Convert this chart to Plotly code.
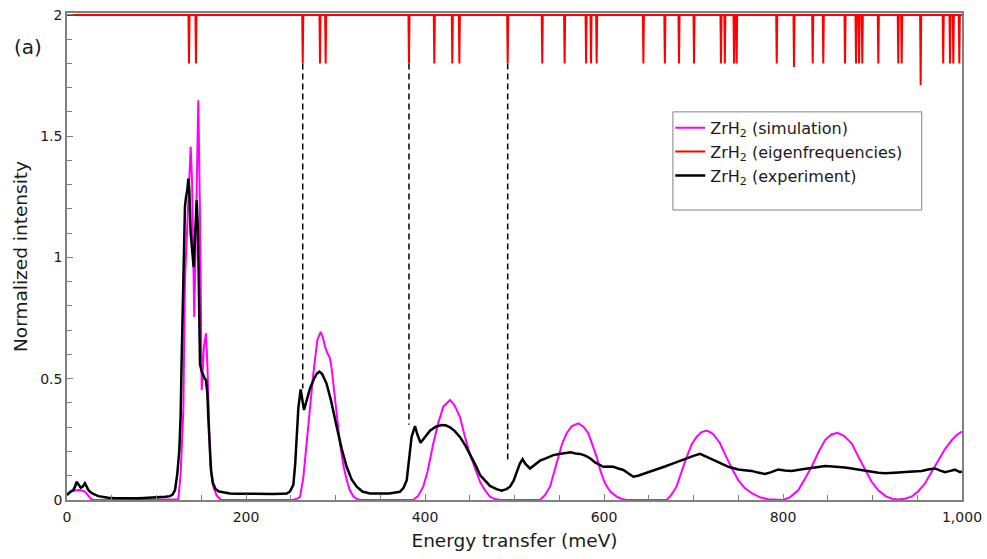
import plotly.graph_objects as go

# --- ZrH2 vibrational spectrum: simulation (magenta) ---
sim_energy = [0, 5, 10, 14.5, 20, 24, 27, 30, 120, 124.4, 127, 128.5, 130, 131.8, 134.4, 136.5,
              138.2, 139.7, 141, 142.2, 143.5, 144.9, 146.7, 148.6, 150.5, 153, 155.3, 156.8,
              158.3, 160, 163, 167, 172, 252, 256, 260.3, 264, 267.8, 271.5, 275.2, 279.7,
              283.4, 286, 288.3, 291, 293.9, 295.8, 297.6, 301, 305, 309, 312.5, 316, 320, 324,
              327, 386.6, 392, 398, 403, 409.3, 415, 420.5, 428, 433, 439, 444, 450, 456, 461.5,
              467, 472.6, 478, 484, 528.5, 534, 539.7, 544, 549, 553, 558.3, 564, 571.3, 577,
              582.5, 587, 591.8, 596, 601.1, 607, 614.2, 620, 625, 670, 675, 681, 686, 692.4,
              698, 703.6, 709, 715.4, 722, 729.6, 735, 740, 745, 750, 757, 765, 775, 783.6, 800,
              808, 817, 824, 832, 840, 847, 854, 861, 868, 876.7, 884, 891.6, 899, 906.5, 915,
              922, 928.8, 936, 943.8, 951, 958.7, 966, 973.5, 981, 988.5, 994, 1000]
sim_intensity = [0.025, 0.035, 0.04, 0.041, 0.035, 0.015, 0.004, 0, 0, 0.003, 0.11, 0.25, 0.37,
                 0.906, 1.11, 1.30, 1.456, 1.318, 1.0, 0.755, 1.0, 1.318, 1.648, 1.18, 0.453,
                 0.632, 0.687, 0.563, 0.37, 0.15, 0.06, 0.02, 0, 0, 0.004, 0.012, 0.09, 0.247,
                 0.39, 0.52, 0.66, 0.693, 0.67, 0.632, 0.605, 0.584, 0.54, 0.48, 0.36, 0.234,
                 0.14, 0.082, 0.04, 0.014, 0.004, 0, 0, 0.015, 0.055, 0.12, 0.234, 0.32, 0.385,
                 0.412, 0.39, 0.343, 0.27, 0.192, 0.13, 0.075, 0.04, 0.014, 0.004, 0, 0, 0.02,
                 0.055, 0.11, 0.178, 0.23, 0.275, 0.305, 0.316, 0.302, 0.275, 0.23, 0.178, 0.12,
                 0.069, 0.035, 0.014, 0.004, 0, 0, 0.02, 0.055, 0.11, 0.178, 0.23, 0.261, 0.28,
                 0.286, 0.272, 0.234, 0.19, 0.15, 0.115, 0.082, 0.05, 0.028, 0.01, 0.003, 0,
                 0.012, 0.04, 0.085, 0.137, 0.2, 0.247, 0.27, 0.277, 0.265, 0.234, 0.18, 0.124,
                 0.075, 0.04, 0.015, 0.005, 0.002, 0.005, 0.014, 0.035, 0.069, 0.115, 0.165,
                 0.21, 0.247, 0.268, 0.282]

# --- ZrH2 vibrational spectrum: experiment (black) ---
exp_energy = [0, 1.5, 4, 7, 9, 10.8, 12, 13.7, 15.5, 17.5, 20, 22, 23.8, 26.5, 29.4, 35, 40.6,
              46, 51.7, 60, 70, 80, 85.3, 95, 104, 110, 115, 118, 120.7, 123.3, 125.5, 127,
              128.2, 129.2, 130.7, 131.8, 133, 134.4, 135.6, 136.7, 138.2, 140.4, 141.5, 143,
              143.8, 144.9, 146.4, 147.5, 148.6, 150.5, 152.3, 154, 155.3, 156.8, 158, 159.5,
              161, 163, 166, 170, 176, 182, 190, 200, 210, 220, 230, 240, 245.5, 249, 252.9,
              255, 256.6, 258.5, 261.1, 262.8, 264.8, 267, 271.5, 276, 279, 282, 285, 290, 295,
              301.3, 307, 312.5, 318, 323.7, 330, 338.5, 350, 360, 372, 376, 379.6, 382.5, 385,
              388.8, 391.5, 395, 400, 405.6, 412, 418.6, 423, 428, 433, 439, 445, 450, 457,
              461.5, 465, 472.6, 480, 485.7, 491, 495, 499, 502.5, 506, 509, 512, 517.3, 522,
              528.5, 535, 543.4, 550, 556.4, 563, 568, 573.2, 579, 584.4, 590, 595, 599.2, 605,
              610.4, 616, 621.6, 627, 632.8, 638, 644, 650, 659, 668, 677.4, 685, 692.4, 700,
              707.3, 714, 722.2, 730, 739, 745, 750, 757, 765, 772, 780, 787, 794.7, 802, 809.7,
              818, 828.3, 838, 847, 855, 861.8, 869, 876.7, 884, 891.6, 899, 906.5, 914, 921.4,
              929, 936.3, 945, 955, 962, 969.8, 975, 981, 987, 992, 997.8, 1000]
exp_intensity = [0.02, 0.027, 0.035, 0.041, 0.055, 0.075, 0.068, 0.06, 0.05, 0.055, 0.069, 0.055,
                 0.041, 0.032, 0.025, 0.016, 0.011, 0.009, 0.008, 0.007, 0.008, 0.007, 0.008,
                 0.009, 0.011, 0.013, 0.016, 0.022, 0.041, 0.11, 0.206, 0.35, 0.6, 0.77, 0.975,
                 1.21, 1.25, 1.277, 1.325, 1.277, 1.1, 0.989, 0.96, 1.08, 1.154, 1.236, 1.11,
                 0.77, 0.56, 0.53, 0.51, 0.5, 0.494, 0.44, 0.33, 0.2, 0.12, 0.07, 0.045, 0.035,
                 0.03, 0.027, 0.026, 0.025, 0.024, 0.024, 0.025, 0.026, 0.027, 0.035, 0.062,
                 0.15, 0.275, 0.38, 0.456, 0.42, 0.371, 0.4, 0.46, 0.5, 0.52, 0.529, 0.52, 0.48,
                 0.41, 0.302, 0.21, 0.137, 0.085, 0.055, 0.035, 0.027, 0.026, 0.027, 0.034, 0.05,
                 0.082, 0.17, 0.26, 0.305, 0.27, 0.236, 0.26, 0.286, 0.302, 0.309, 0.308, 0.3,
                 0.285, 0.26, 0.225, 0.192, 0.14, 0.103, 0.09, 0.058, 0.045, 0.038, 0.045, 0.055,
                 0.08, 0.117, 0.15, 0.168, 0.15, 0.13, 0.145, 0.162, 0.172, 0.185, 0.19, 0.195,
                 0.197, 0.192, 0.19, 0.183, 0.172, 0.155, 0.145, 0.137, 0.138, 0.137, 0.13, 0.124,
                 0.11, 0.096, 0.1, 0.107, 0.115, 0.126, 0.138, 0.151, 0.162, 0.172, 0.182, 0.19,
                 0.178, 0.165, 0.152, 0.137, 0.13, 0.126, 0.123, 0.12, 0.113, 0.107, 0.115, 0.126,
                 0.122, 0.12, 0.125, 0.13, 0.135, 0.14, 0.138, 0.137, 0.134, 0.13, 0.125, 0.12,
                 0.115, 0.112, 0.11, 0.11, 0.113, 0.115, 0.118, 0.12, 0.126, 0.13, 0.122, 0.115,
                 0.12, 0.125, 0.115, 0.118]

# --- calculated eigenfrequencies (meV) and the level each stick reaches ---
eig_freq = [136.3, 144.1, 263.4, 282.7, 289.0, 382.1, 410.4, 430.5, 438.4, 492.4, 531, 556, 580,
            585.5, 591.8, 644, 668, 683.8, 700.6, 730.7, 735, 745.3, 748.2, 793, 812.3, 833.2,
            845, 869.3, 881.6, 885, 888.6, 906.5, 928.8, 932.6, 953.8, 979, 986.6, 990.3, 997]
eig_level = [1.8, 1.8, 1.8, 1.8, 1.8, 1.8, 1.8, 1.8, 1.8, 1.8, 1.8, 1.8, 1.8, 1.8, 1.8, 1.8,
             1.8, 1.8, 1.8, 1.8, 1.8, 1.8, 1.8, 1.8, 1.785, 1.8, 1.8, 1.8, 1.8, 1.8, 1.8, 1.8,
             1.8, 1.8, 1.71, 1.8, 1.8, 1.8, 1.8]
eig_baseline = 2.0
stick_halfwidth = 0.6

# --- guides linking selected eigenfrequencies to experimental features ---
guide_energy = [263.4, 382.1, 492.4]
guide_top = [1.8, 1.8, 1.8]
guide_bottom = [0.46, 0.31, 0.155]

FONT = "DejaVu Sans"
AXIS_GREY = "#808080"

# build the stick spectrum as one continuous line along the baseline
stick_x = [0.0]
stick_y = [eig_baseline]
for f, lvl in zip(eig_freq, eig_level):
    stick_x += [f - stick_halfwidth, f, f + stick_halfwidth]
    stick_y += [eig_baseline, lvl, eig_baseline]
stick_x.append(1000.0)
stick_y.append(eig_baseline)

guide_x, guide_y = [], []
for e, top, bot in zip(guide_energy, guide_top, guide_bottom):
    guide_x += [e, e, None]
    guide_y += [top, bot, None]

fig = go.Figure()
fig.add_trace(go.Scatter(x=guide_x, y=guide_y, mode="lines", showlegend=False,
                         line=dict(color="black", width=1.5, dash="6px,4px"),
                         hoverinfo="skip"))
fig.add_trace(go.Scatter(x=sim_energy, y=sim_intensity, mode="lines",
                         name="ZrH<sub>2</sub> (simulation)",
                         line=dict(color="#ff00ff", width=2)))
fig.add_trace(go.Scatter(x=stick_x, y=stick_y, mode="lines",
                         name="ZrH<sub>2</sub> (eigenfrequencies)",
                         line=dict(color="#ff0000", width=2)))
fig.add_trace(go.Scatter(x=exp_energy, y=exp_intensity, mode="lines",
                         name="ZrH<sub>2</sub> (experiment)",
                         line=dict(color="black", width=2.5)))

fig.update_layout(
    width=987, height=559,
    margin=dict(l=67, r=25, t=13, b=59),
    paper_bgcolor="white", plot_bgcolor="white",
    font=dict(family=FONT, color="#1a1a1a"),
    legend=dict(x=0.674, y=0.799, xanchor="left", yanchor="top",
                bgcolor="rgba(0,0,0,0)", borderwidth=0,
                font=dict(family=FONT, size=16, color="#1a1a1a"),
                tracegroupgap=0, traceorder="normal"),
    shapes=[dict(type="rect", xref="paper", yref="paper",
                 x0=0.677, x1=0.955, y0=0.5955, y1=0.797,
                 line=dict(color=AXIS_GREY, width=1), fillcolor="rgba(0,0,0,0)")],
    annotations=[dict(text="(a)", xref="paper", yref="paper", x=-0.0615, y=0.93,
                      xanchor="left", yanchor="middle", showarrow=False,
                      font=dict(family=FONT, size=20, color="#1a1a1a"))],
)

fig.update_xaxes(
    range=[0, 1000], tick0=0, dtick=200, tickformat=",d", automargin=False,
    ticks="inside", ticklen=6, tickwidth=1, tickcolor=AXIS_GREY,
    minor=dict(dtick=50, ticks="inside", ticklen=5, tickcolor=AXIS_GREY),
    showline=True, linecolor=AXIS_GREY, linewidth=1.5, mirror=True,
    showgrid=False, zeroline=False, ticklabelstandoff=3,
    tickfont=dict(family=FONT, size=14, color="#1a1a1a"),
    title=dict(text="Energy transfer (meV)", font=dict(family=FONT, size=18.5, color="#1a1a1a"),
               standoff=11),
)
fig.update_yaxes(
    range=[0, 2.008], tickvals=[0, 0.5, 1, 1.5, 2], ticktext=["0", "0.5", "1", "1.5", "2"],
    automargin=False,
    ticks="inside", ticklen=6, tickwidth=1, tickcolor=AXIS_GREY,
    minor=dict(dtick=0.1, ticks="inside", ticklen=5, tickcolor=AXIS_GREY),
    showline=True, linecolor=AXIS_GREY, linewidth=1.5, mirror=True,
    showgrid=False, zeroline=False,
    tickfont=dict(family=FONT, size=14, color="#1a1a1a"),
    title=dict(text="Normalized intensity", font=dict(family=FONT, size=18.5, color="#1a1a1a"),
               standoff=8),
)

fig.write_html("out.html")
